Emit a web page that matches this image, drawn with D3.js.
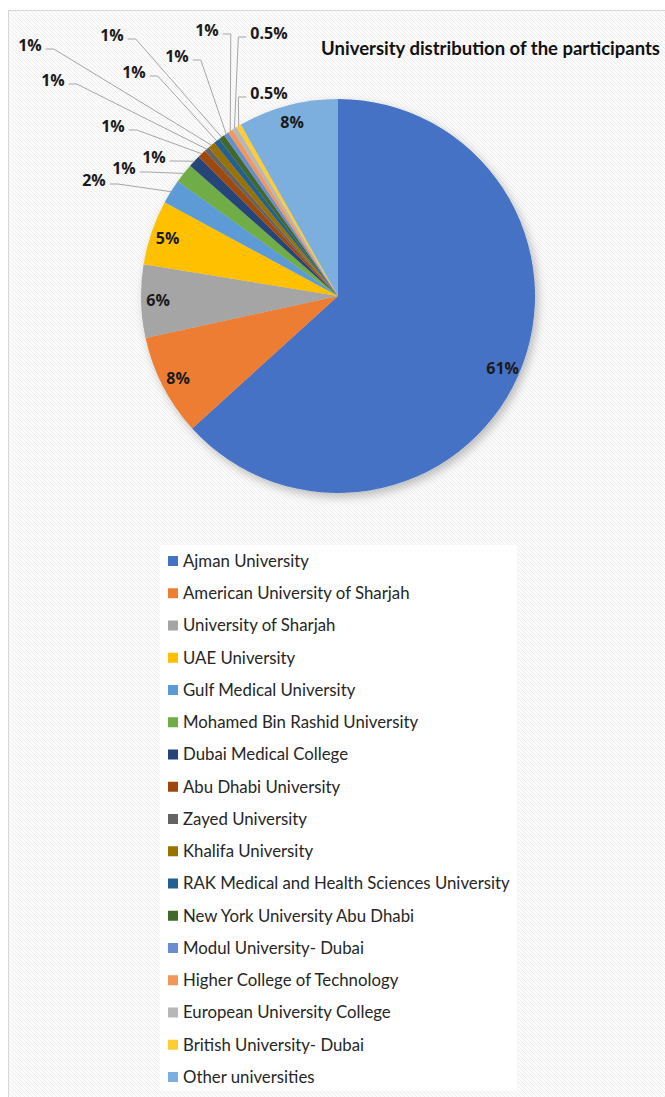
<!DOCTYPE html>
<html>
<head>
<meta charset="utf-8">
<script src="https://cdnjs.cloudflare.com/ajax/libs/d3/7.8.5/d3.min.js"></script>
<style>
  body { margin: 0; background: #fff; }
  svg { display: block; font-family: Lato, "Open Sans", sans-serif; }
  .pct { font-family: "Open Sans", sans-serif; font-size: 16px; font-weight: bold; fill: #1a1a1a; }
</style>
</head>
<body>
<div id="chart"></div>
<script>
var width = 665, height = 1097;

// data
var names = ["Ajman University", "American University of Sharjah", "University of Sharjah",
  "UAE University", "Gulf Medical University", "Mohamed Bin Rashid University",
  "Dubai Medical College", "Abu Dhabi University", "Zayed University", "Khalifa University",
  "RAK Medical and Health Sciences University", "New York University Abu Dhabi",
  "Modul University- Dubai", "Higher College of Technology", "European University College",
  "British University- Dubai", "Other universities"];
var shares = [63.2, 8.3, 6.0, 5.3, 2.0, 1.6, 1.0, 0.7, 0.4, 0.6, 0.5, 0.5, 0.4, 0.4, 0.4, 0.4, 8.2];
var pctLabels = ["61%", "8%", "6%", "5%", "2%", "1%", "1%", "1%", "1%", "1%", "1%", "1%", "1%", "1%", "0.5%", "0.5%", "8%"];
var colors = ["#4472C4", "#ED7D31", "#A5A5A5", "#FFC000", "#5B9BD5", "#70AD47", "#264478",
  "#9E480E", "#636363", "#997300", "#255E91", "#43682B", "#698ED0", "#F1975A", "#B7B7B7",
  "#FFCD33", "#7CAFDD"];

// layout: where the outside labels sit (label centre), null = inside the slice
var labelXY = [null, null, null, null, [94, 180], [124, 168], [154, 157], [113, 126], [53, 80],
  [30, 45], [134, 72], [112, 35], [177, 56], [207, 30], [269, 33], [269, 93], null];

var cx = 338, cy = 296, radius = 197;

var svg = d3.select("#chart").append("svg")
  .attr("width", width)
  .attr("height", height);

var defs = svg.append("defs");
var hatch = defs.append("pattern")
  .attr("id", "hatch")
  .attr("patternUnits", "userSpaceOnUse")
  .attr("width", 4).attr("height", 4);
hatch.append("rect").attr("width", 4).attr("height", 4).attr("fill", "#fbfbfb");
hatch.append("path").attr("d", "M-1,-1 L5,5 M3,-1 L5,1 M-1,3 L1,5")
  .attr("stroke", "#ededed").attr("stroke-width", 1);

var shadow = defs.append("filter").attr("id", "shadow")
  .attr("x", "-20%").attr("y", "-20%").attr("width", "140%").attr("height", "140%");
shadow.append("feDropShadow")
  .attr("dx", 3).attr("dy", 4).attr("stdDeviation", 5)
  .attr("flood-color", "#000").attr("flood-opacity", 0.25);

// chart area
svg.append("rect")
  .attr("x", 8.5).attr("y", 10.5)
  .attr("width", width).attr("height", height)
  .attr("fill", "url(#hatch)")
  .attr("stroke", "#d6d6d6");

svg.append("text")
  .attr("x", 660).attr("y", 55)
  .attr("text-anchor", "end")
  .style("font-size", "18.5px")
  .style("font-weight", "bold")
  .attr("fill", "#111")
  .text("University distribution of the participants");

var pie = d3.pie().sort(null).value(function(d) { return d; });
var arcs = pie(shares);
var arc = d3.arc().innerRadius(0).outerRadius(radius);
var labelArc = d3.arc().innerRadius(180).outerRadius(180);
var edgeArc = d3.arc().innerRadius(radius).outerRadius(radius);

var g = svg.append("g").attr("transform", "translate(" + cx + "," + cy + ")");

g.append("g").attr("filter", "url(#shadow)")
  .selectAll("path")
  .data(arcs)
  .enter().append("path")
  .attr("d", arc)
  .attr("fill", function(d, i) { return colors[i]; });

// inside labels
g.selectAll(".inLabel")
  .data(arcs.filter(function(d, i) { return labelXY[i] == null; }))
  .enter().append("text")
  .attr("class", "inLabel pct")
  .attr("transform", function(d) { return "translate(" + labelArc.centroid(d) + ")"; })
  .attr("dy", "0.35em")
  .attr("text-anchor", "middle")
  .text(function(d) { return pctLabels[d.index]; });

// outside labels with leader lines
var outer = svg.append("g");
arcs.forEach(function(d, i) {
  if (labelXY[i] == null) return;
  var p = labelXY[i];
  var t = outer.append("text")
    .attr("class", "pct")
    .attr("x", p[0]).attr("y", p[1])
    .attr("dy", "0.35em")
    .attr("text-anchor", "middle")
    .text(pctLabels[i]);
  var bb = t.node().getBBox();
  var e = edgeArc.centroid(d);
  var ex = e[0] + cx, ey = e[1] + cy;
  var ly = p[1] + 4;
  var x1, x2;
  if (ex > p[0]) { x1 = bb.x + bb.width + 4; x2 = x1 + 8; }
  else { x1 = bb.x - 4; x2 = x1 - 8; }
  outer.append("path")
    .attr("d", "M" + x1 + "," + ly + "L" + x2 + "," + ly + "L" + ex + "," + ey)
    .attr("fill", "none")
    .attr("stroke", "#a6a6a6")
    .attr("stroke-width", 1);
});

// legend
var legend = svg.append("g");
legend.append("rect")
  .attr("x", 160).attr("y", 545)
  .attr("width", 357).attr("height", 546)
  .attr("fill", "#fff");

var rows = legend.selectAll(".row")
  .data(names)
  .enter().append("g")
  .attr("class", "row")
  .attr("transform", function(d, i) { return "translate(168," + (561 + i * 32.25) + ")"; });

rows.append("rect")
  .attr("x", 0).attr("y", -5)
  .attr("width", 10).attr("height", 10)
  .attr("fill", function(d, i) { return colors[i]; });

rows.append("text")
  .attr("x", 15).attr("y", 0)
  .attr("dy", "0.35em")
  .style("font-size", "16.8px")
  .attr("fill", "#262626")
  .text(function(d) { return d; });
</script>
</body>
</html>
